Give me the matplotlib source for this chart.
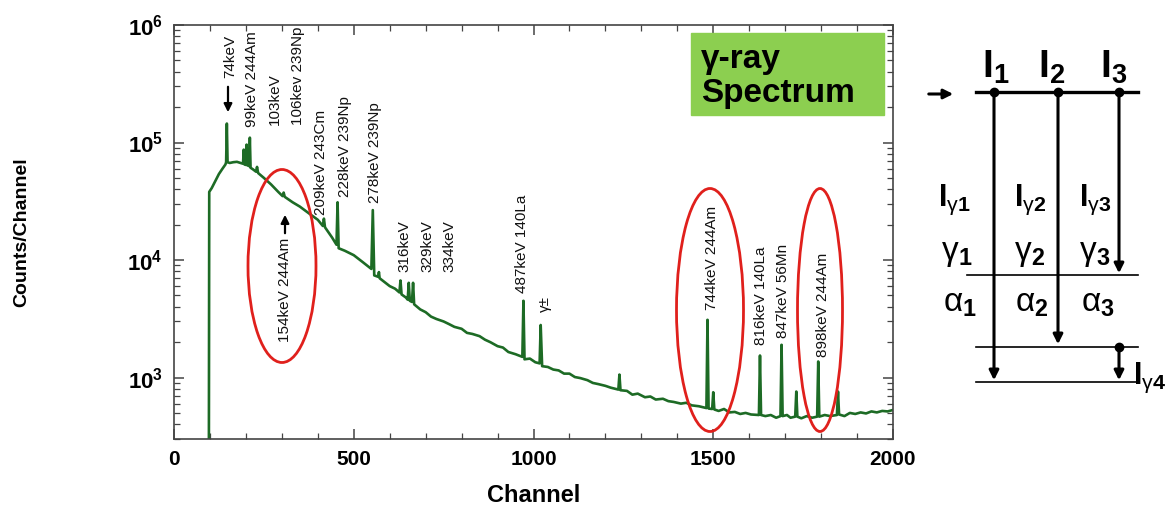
import numpy as np
import matplotlib.pyplot as plt
from matplotlib.patches import Ellipse, Rectangle
from matplotlib.ticker import FixedLocator, MultipleLocator, FuncFormatter

plt.rcParams['font.family'] = ['Liberation Sans', 'DejaVu Sans']
plt.rcParams['mathtext.fontset'] = 'custom'
plt.rcParams['mathtext.rm'] = 'Liberation Sans'
plt.rcParams['mathtext.bf'] = 'Liberation Sans:bold'
plt.rcParams['mathtext.it'] = 'Liberation Sans:italic'

# spectrum (channel, counts)
channel = [97, 98, 105, 115, 125, 135, 143, 145, 147, 149, 155, 165, 175, 185,
           192, 194, 196, 200, 202, 204, 209, 211, 213, 220, 228, 231, 234, 250,
           270, 290, 302, 305, 308, 330, 350, 375, 400, 414, 417, 420, 440, 452,
           455, 458, 475, 500, 525, 549, 553, 557, 568, 570, 572, 600, 615, 627,
           630, 633, 645, 650, 653, 656, 662, 665, 668, 685, 700, 715, 730, 750,
           765, 780, 800, 815, 830, 850, 865, 880, 900, 915, 930, 950, 969, 972,
           975, 990, 1005, 1017, 1020, 1024, 1040, 1055, 1070, 1085, 1100, 1115,
           1130, 1150, 1165, 1180, 1200, 1215, 1236, 1239, 1242, 1260, 1275, 1290,
           1310, 1325, 1340, 1360, 1375, 1390, 1410, 1425, 1440, 1460, 1481, 1484,
           1487, 1497, 1500, 1503, 1515, 1530, 1545, 1560, 1575, 1590, 1605, 1627,
           1630, 1633, 1645, 1660, 1675, 1687, 1690, 1693, 1705, 1715, 1728, 1731,
           1734, 1745, 1760, 1775, 1789, 1792, 1795, 1810, 1825, 1844, 1847, 1850,
           1865, 1880, 1895, 1910, 1925, 1940, 1955, 1970, 1985, 2000]
counts = [200, 38000, 41000, 47000, 54000, 60000, 65000, 68000, 145000, 68000,
          67000, 68000, 68500, 67000, 66000, 87000, 65000, 64500, 96000, 64000,
          63000, 110000, 61000, 59000, 56500, 62000, 55000, 50000, 44000, 38000,
          35000, 37500, 34500, 31000, 28500, 25000, 22000, 19500, 22500, 19000,
          15500, 13500, 31000, 12600, 12000, 11000, 9600, 8400, 26600, 7400,
          7200, 7900, 7000, 6000, 5700, 5300, 6700, 5100, 4800, 4600, 6400, 4500,
          4400, 6400, 4200, 3800, 3600, 3300, 3150, 3000, 2850, 2700, 2600, 2400,
          2350, 2250, 2100, 2000, 1850, 1800, 1650, 1580, 1500, 4500, 1430, 1450,
          1350, 1320, 2800, 1250, 1230, 1170, 1150, 1080, 1080, 1010, 990, 950,
          900, 880, 850, 820, 790, 1060, 780, 770, 715, 730, 680, 690, 650, 660,
          630, 620, 600, 610, 580, 570, 550, 3100, 545, 540, 750, 535, 520, 540,
          505, 510, 490, 500, 485, 480, 1540, 480, 470, 480, 455, 470, 1900, 470,
          480, 455, 465, 760, 465, 450, 470, 455, 465, 1370, 465, 480, 470, 480,
          760, 485, 470, 500, 490, 505, 495, 515, 505, 520, 515, 530]

# peak labels: text, x centre (px), bottom (px)
labels = [('74keV', 230, 78), ('99keV 244Am', 252, 127), ('103keV', 275, 125),
          ('106kev 239Np', 298, 125), ('209keV 243Cm', 321, 215),
          ('228keV 239Np', 345, 197), ('278keV 239Np', 375, 203),
          ('316keV', 404, 272), ('329keV', 427, 272), ('334keV', 449, 272),
          ('487keV 140La', 522, 293), ('γ±', 545, 312),
          ('154keV 244Am', 285, 342), ('744keV 244Am', 712, 310),
          ('816keV 140La', 761, 345), ('847keV 56Mn', 783, 338),
          ('898keV 244Am', 823, 357)]

W, H = 1169, 513
fig = plt.figure(figsize=(W / 100, H / 100), dpi=100)
ax = fig.add_axes([174 / W, 1 - 439 / H, 719 / W, 414 / H])

ax.plot(channel, counts, color='#1d6b25', lw=1.9)
ax.set_yscale('log')
ax.set_xlim(0, 2000)
ax.set_ylim(300, 1e6)

ax.xaxis.set_major_locator(MultipleLocator(500))
ax.xaxis.set_minor_locator(MultipleLocator(100))
ax.yaxis.set_major_locator(FixedLocator([1e3, 1e4, 1e5, 1e6]))
ax.yaxis.set_major_formatter(FuncFormatter(lambda v, p: r'$\mathbf{10^{%d}}$' % round(np.log10(v))))
ax.tick_params(which='both', direction='in', top=True, right=True, color='#444444')
ax.tick_params(which='major', length=7, width=1.1)
ax.tick_params(which='minor', length=4, width=0.9)
ax.tick_params(axis='x', labelsize=15, pad=8)
ax.tick_params(axis='y', labelsize=16, pad=8)
for lab in ax.get_xticklabels():
    lab.set_fontweight('bold')
for s in ax.spines.values():
    s.set_color('#444444')
    s.set_linewidth(1.2)

ax.set_xlabel('Channel', fontsize=17, fontweight='bold')
ax.xaxis.set_label_coords(0.5, -(484 - 439) / 414)
ax.set_ylabel('Counts/Channel', fontsize=14, fontweight='bold')
ax.yaxis.set_label_coords((30 - 174) / 719, 0.5)

# overlay in pixel coordinates for the decorations and the level scheme
ov = fig.add_axes([0, 0, 1, 1])
ov.set_xlim(0, W)
ov.set_ylim(H, 0)
ov.axis('off')
ov.patch.set_alpha(0)

for txt, x, y in labels:
    ov.text(x, y, txt, rotation=90, ha='center', va='bottom', fontsize=11, color='#111111')

arrow = dict(arrowstyle='-|>', color='black', lw=1.6, mutation_scale=12)
ov.annotate('', xy=(228, 115), xytext=(228, 84), arrowprops=arrow)
ov.annotate('', xy=(285, 212), xytext=(285, 236), arrowprops=arrow)

red = '#e0201c'
ov.add_patch(Ellipse((282, 266), 68, 193, fill=False, ec=red, lw=2))
ov.add_patch(Ellipse((710, 310), 67, 243, fill=False, ec=red, lw=2))
ov.add_patch(Ellipse((820, 310), 45, 243, fill=False, ec=red, lw=2))

ov.add_patch(Rectangle((691, 33), 193, 82, color='#8ccf50'))
ov.text(701, 68, 'γ-ray', fontsize=24, fontweight='bold', va='baseline')
ov.text(701, 102, 'Spectrum', fontsize=24, fontweight='bold', va='baseline')

# level scheme
ov.plot([976, 1138], [92, 92], color='black', lw=2.4)
for yl in [275, 347, 382]:
    ov.plot([967 if yl == 275 else 976, 1138], [yl, yl], color='black', lw=1.2)
ov.plot([994, 1058, 1119, 1119], [92, 92, 92, 347], 'o', color='black', ms=6)
big = dict(arrowstyle='-|>', color='black', lw=2.2, mutation_scale=14)
ov.annotate('', xy=(994, 383), xytext=(994, 92), arrowprops=big)
ov.annotate('', xy=(1058, 347), xytext=(1058, 92), arrowprops=big)
ov.annotate('', xy=(1119, 276), xytext=(1119, 92), arrowprops=big)
ov.annotate('', xy=(1119, 383), xytext=(1119, 347), arrowprops=big)
ov.annotate('', xy=(956, 94), xytext=(926, 94), arrowprops=big)

for i, x in enumerate([996, 1052, 1114]):
    ov.text(x, 78, r'$\mathbf{I}_{\mathbf{%d}}$' % (i + 1), fontsize=28, ha='center', va='baseline')
for i, x in enumerate([954, 1030, 1095]):
    ov.text(x, 206, r'$\mathbf{I}_{\mathrm{γ}\mathbf{%d}}$' % (i + 1), fontsize=22, ha='center', va='baseline')
for i, x in enumerate([957, 1030, 1095]):
    ov.text(x, 260, r'$\mathrm{γ}_{\mathbf{%d}}$' % (i + 1), fontsize=24, ha='center', va='baseline')
for i, x in enumerate([960, 1032, 1098]):
    ov.text(x, 312, r'$\mathrm{α}_{\mathbf{%d}}$' % (i + 1), fontsize=24, ha='center', va='baseline')
ov.text(1150, 384, r'$\mathbf{I}_{\mathrm{γ}\mathbf{4}}$', fontsize=22, ha='center', va='baseline')

fig.savefig('out.png', dpi=100)
